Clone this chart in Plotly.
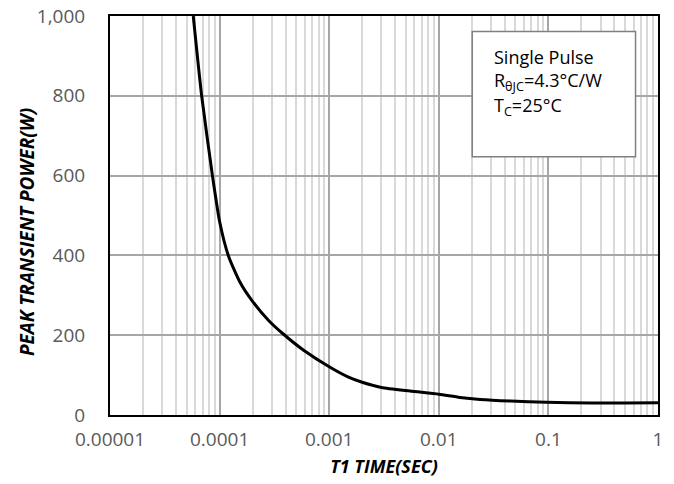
import plotly.graph_objects as go

# Data
time_s = [5.75e-5, 6.86e-5, 8.6e-5, 9.27e-5, 1.0e-4, 1.2e-4, 1.54e-4, 1.96e-4,
          2.8e-4, 3.81e-4, 5.8e-4, 1.0e-3, 1.5e-3, 2.0e-3, 3.0e-3,
          5.46e-3, 1.0e-2, 1.56e-2, 2.38e-2, 4.5e-2, 9.6e-2, 0.25, 0.5, 1.0]
power_w = [1000, 800, 600, 540, 485, 400, 332, 288,
           237, 203, 163, 121, 95, 82, 69,
           60, 52, 44, 39, 35, 32, 30, 30, 31]

x_tick_vals = [1e-5, 1e-4, 1e-3, 1e-2, 1e-1, 1]
x_tick_text = ["0.00001", "0.0001", "0.001", "0.01", "0.1", "1"]
y_tick_vals = [0, 200, 400, 600, 800, 1000]
y_tick_text = ["0", "200", "400", "600", "800", "1,000"]

FONT = "Open Sans"
GREY = "#595959"

fig = go.Figure()
fig.add_trace(go.Scatter(
    x=time_s, y=power_w, mode="lines",
    line=dict(color="black", width=3, shape="spline", smoothing=0.6),
    hoverinfo="skip", showlegend=False,
))

fig.update_layout(
    width=674, height=484,
    margin=dict(l=110, r=16, t=16, b=69),
    paper_bgcolor="white", plot_bgcolor="white",
    font=dict(family=FONT, size=18, color=GREY),
    xaxis=dict(
        type="log", range=[-5, 0], automargin=False,
        tickvals=x_tick_vals, ticktext=x_tick_text,
        showgrid=True, gridcolor="#a6a6a6", gridwidth=1.5,
        minor=dict(dtick="D1", showgrid=True, gridcolor="#d9d9d9", gridwidth=1.5),
        showline=True, linecolor="black", linewidth=2, mirror=True,
        ticks="", ticklabelstandoff=6,
        tickfont=dict(family=FONT, size=19, color=GREY),
        title=dict(text="<b><i>T1 TIME(SEC)</i></b>", standoff=10,
                   font=dict(family=FONT, size=18, color="black")),
        zeroline=False,
    ),
    yaxis=dict(
        range=[0, 1000], automargin=False,
        tickvals=y_tick_vals, ticktext=y_tick_text,
        showgrid=True, gridcolor="#a6a6a6", gridwidth=1.5,
        showline=True, linecolor="black", linewidth=2, mirror=True,
        ticks="", ticklabelstandoff=19,
        tickfont=dict(family=FONT, size=19, color=GREY),
        zeroline=False,
    ),
    shapes=[dict(type="rect", xref="paper", yref="paper",
                 x0=0.661, x1=0.959, y0=0.647, y1=0.961,
                 line=dict(color="#808080", width=1.5), fillcolor="white")],
)

fig.add_annotation(xref="paper", yref="paper", x=-0.151, y=0.459,
                   xanchor="center", yanchor="middle", showarrow=False, textangle=-90,
                   text="<b><i>PEAK TRANSIENT POWER(W)</i></b>",
                   font=dict(family=FONT, size=19, color="black"))

ann_lines = ["Single Pulse", "R<sub>θJC</sub>=4.3°C/W", "T<sub>C</sub>=25°C"]
ann_y = [0.898, 0.836, 0.773]
for txt, yy in zip(ann_lines, ann_y):
    fig.add_annotation(xref="paper", yref="paper", x=0.6965, y=yy,
                       xanchor="left", yanchor="middle", showarrow=False,
                       text=txt, font=dict(family=FONT, size=18, color="black"))

fig.write_html("out.html", config={"displayModeBar": False},
               post_script="document.body.style.margin='0';")
